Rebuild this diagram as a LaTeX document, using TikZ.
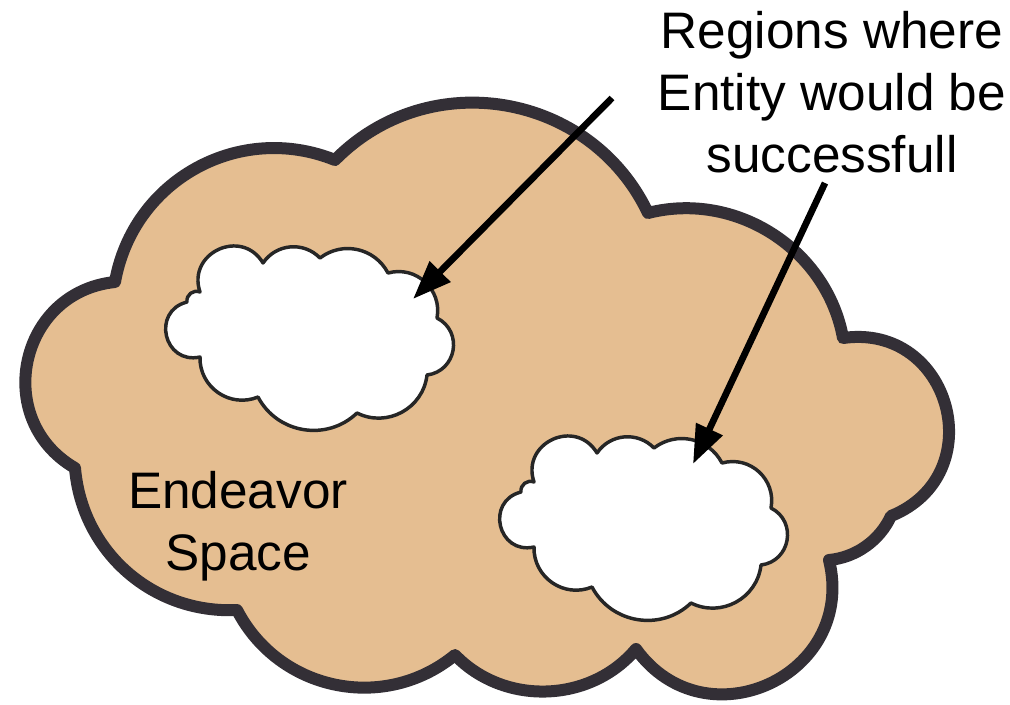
\documentclass[tikz,border=0pt]{standalone}
\usepackage{fontspec}
\setmainfont{Liberation Sans}
\usepackage{xcolor}
\usetikzlibrary{arrows.meta}

\definecolor{sand}{RGB}{229,190,145}
\definecolor{ink}{RGB}{51,47,54}

\tikzset{
  lobe/.style 2 args={bend left=#1, looseness=#2},
  puffy/.style={fill=white, draw=black!85, line width=2.6pt, line join=round},
  pointer/.style={-{Triangle[length=29pt,width=21pt]}, line width=5pt},
  words/.style={align=center, inner sep=0pt, font=\fontsize{38.5}{46.5}\selectfont}
}

\newcommand{\puffpath}{(-110,-46) to[lobe={84}{1.53}] (-47,-75) to[lobe={51}{1.05}] (10,-80)
  to[lobe={50}{1.04}] (78,-65) to[lobe={58}{1.12}] (127,-20) to[lobe={73}{1.32}] (117,37)
  to[lobe={55}{1.08}] (47,75) to[lobe={53}{1.06}] (-52,59) to[lobe={57}{1.1}] (-110,19)
  to[lobe={89}{1.68}] (-123,-36) to[lobe={60}{1.13}] cycle}

\begin{document}
\begin{tikzpicture}[x=0.75pt, y=-0.75pt]
  \useasboundingbox (0,0) rectangle (1010,704);
  \filldraw[fill=sand, draw=ink, line width=9pt, line join=round]
    (335,160) to[lobe={55}{1.08}] (648,213) to[lobe={47}{1.0}] (843,338)
    to[lobe={83}{1.52}] (891,516) to[lobe={30}{0.91}] (829,560)
    to[lobe={79}{1.43}] (636,649) to[lobe={48}{1.0}] (455,655)
    to[lobe={51}{1.05}] (237,610) to[lobe={44}{1.0}] (75,468)
    to[lobe={72}{1.3}] (115,282) to[lobe={51}{1.05}] cycle;
  \filldraw[puffy, shift={(310,338)}] \puffpath;
  \filldraw[puffy, shift={(644,528)}] \puffpath;
  \node[words, anchor=north] (regions) at (832,11) {Regions where\\Entity would be\\successfull};
  \node[words, anchor=north] (space) at (238,471) {Endeavor\\Space};
  \coordinate (tail1) at (612,98);
  \coordinate (tip1) at (413,299);
  \coordinate (tail2) at (825,183);
  \coordinate (tip2) at (693,464);
  \draw[pointer] (tail1) -- (tip1);
  \draw[pointer] (tail2) -- (tip2);
\end{tikzpicture}
\end{document}
